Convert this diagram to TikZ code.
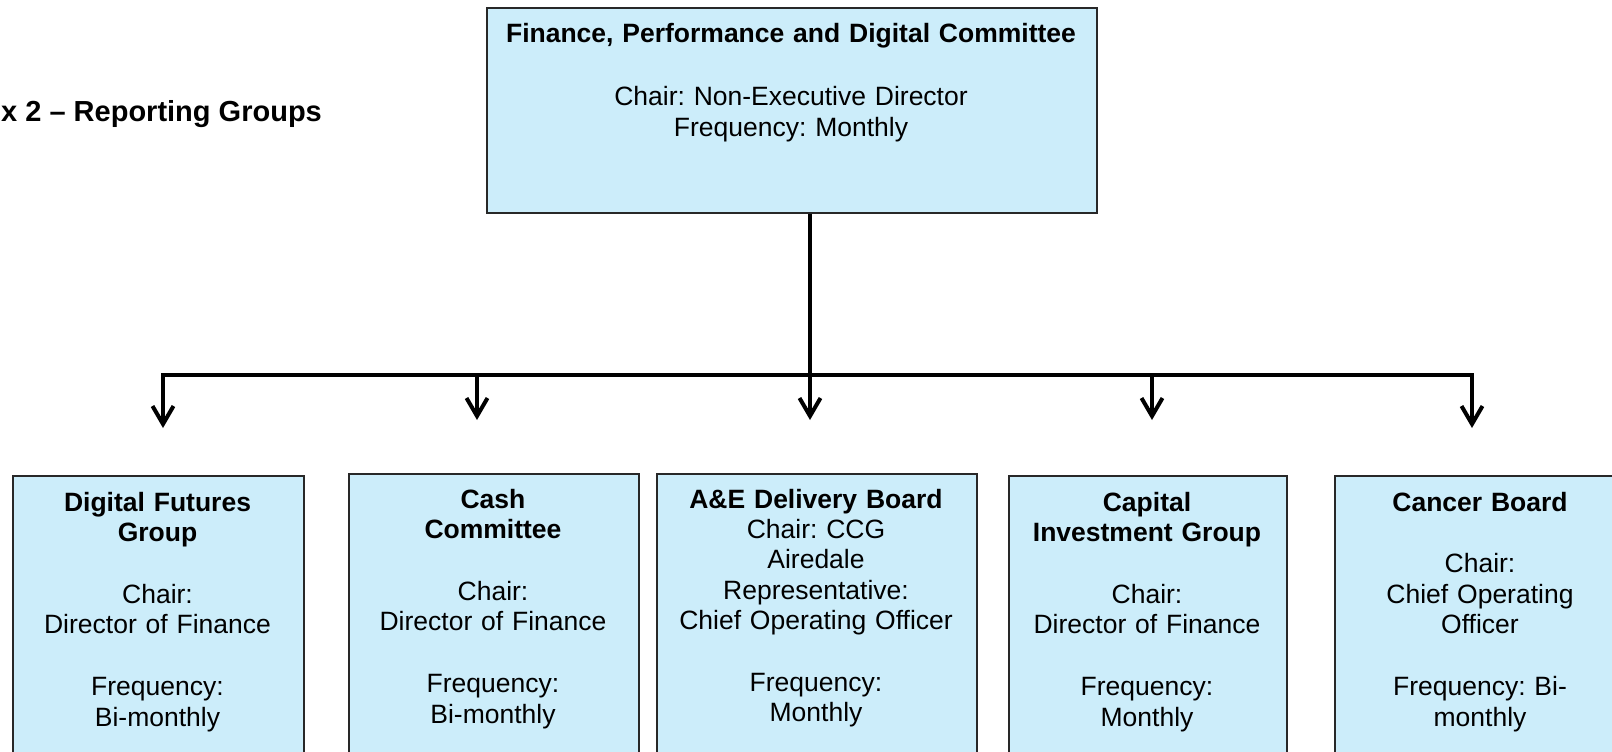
\documentclass[tikz,border=0pt]{standalone}
\usepackage{fontspec}
\setmainfont{Liberation Sans}
\usetikzlibrary{arrows.meta}
\frenchspacing

\definecolor{boxblue}{RGB}{204,237,250}
\definecolor{boxedge}{RGB}{40,40,40}

\begin{document}
\begin{tikzpicture}[x=1pt, y=-1pt]
  \tikzset{
    box/.style={draw=boxedge, line width=1.6pt, fill=boxblue, inner sep=0pt},
    boxtext/.style={align=center, inner sep=0pt, anchor=base,
      font=\frenchspacing\fontsize{26.5}{30.4}\selectfont},
    conn/.style={line width=4pt, line join=miter, draw=black},
    barb/.tip={Straight Barb[length=18pt,width=21pt]},
    down/.style={conn, -barb}
  }
  \useasboundingbox (0,0) rectangle (1612,752);
  \clip (0,0) rectangle (1612,752);

  % heading
  \node[font=\fontsize{29}{34}\selectfont\bfseries, anchor=base west, inner sep=0pt]
    (heading) at (1,121.7) {x 2 – Reporting Groups};

  % parent committee
  \node[box, anchor=north west, minimum width=610pt, minimum height=205pt] (fpd) at (486,7) {};
  \node[boxtext, text width=600pt] (fpdtext) at (791,42.5)
    {\textbf{Finance, Performance and Digital Committee}\\[33pt]
     Chair: Non-Executive Director\\
     Frequency: Monthly};

  % reporting groups
  \node[box, anchor=north west, minimum width=291pt, minimum height=320pt] (dfg) at (12,475) {};
  \node[boxtext, text width=285pt] (dfgtext) at (157.5,511)
    {\textbf{Digital Futures}\\\textbf{Group}\\[31.5pt]
     Chair:\\Director of Finance\\[31.5pt]
     Frequency:\\Bi-monthly};

  \node[box, anchor=north west, minimum width=290pt, minimum height=320pt] (cash) at (348,473) {};
  \node[boxtext, text width=284pt] (cashtext) at (493,508)
    {\textbf{Cash}\\\textbf{Committee}\\[31.5pt]
     Chair:\\Director of Finance\\[31.5pt]
     Frequency:\\Bi-monthly};

  \node[box, anchor=north west, minimum width=320pt, minimum height=320pt] (ae) at (656,473) {};
  \node[boxtext, text width=314pt] (aetext) at (816,508)
    {\textbf{A\&E Delivery Board}\\
     Chair: CCG\\Airedale\\Representative:\\Chief Operating Officer\\[31.5pt]
     Frequency:\\Monthly};

  \node[box, anchor=north west, minimum width=278pt, minimum height=320pt] (cap) at (1008,475) {};
  \node[boxtext, text width=272pt] (captext) at (1147,511)
    {\textbf{Capital}\\\textbf{Investment Group}\\[31.5pt]
     Chair:\\Director of Finance\\[31.5pt]
     Frequency:\\Monthly};

  \node[box, anchor=north west, minimum width=292pt, minimum height=320pt] (cancer) at (1334,475) {};
  \node[boxtext, text width=286pt] (cancertext) at (1480,511)
    {\textbf{Cancer Board}\\[31.5pt]
     Chair:\\Chief Operating\\Officer\\[31.5pt]
     Frequency: Bi-\\monthly};

  % connector ends
  \coordinate (busL) at (163,375);
  \coordinate (busR) at (1472,375);
  \coordinate (tipA) at (163,428);
  \coordinate (tipB) at (477,420);
  \coordinate (tipC) at (810,420);
  \coordinate (tipD) at (1152,420);
  \coordinate (tipE) at (1472,428);

  % connectors
  \draw[conn, barb-barb] (tipA) -- (busL) -- (busR) -- (tipE);
  \draw[down] (fpd.south -| tipC) -- (tipC);
  \draw[down] (tipB |- busL) -- (tipB);
  \draw[down] (tipD |- busL) -- (tipD);
\end{tikzpicture}
\end{document}
